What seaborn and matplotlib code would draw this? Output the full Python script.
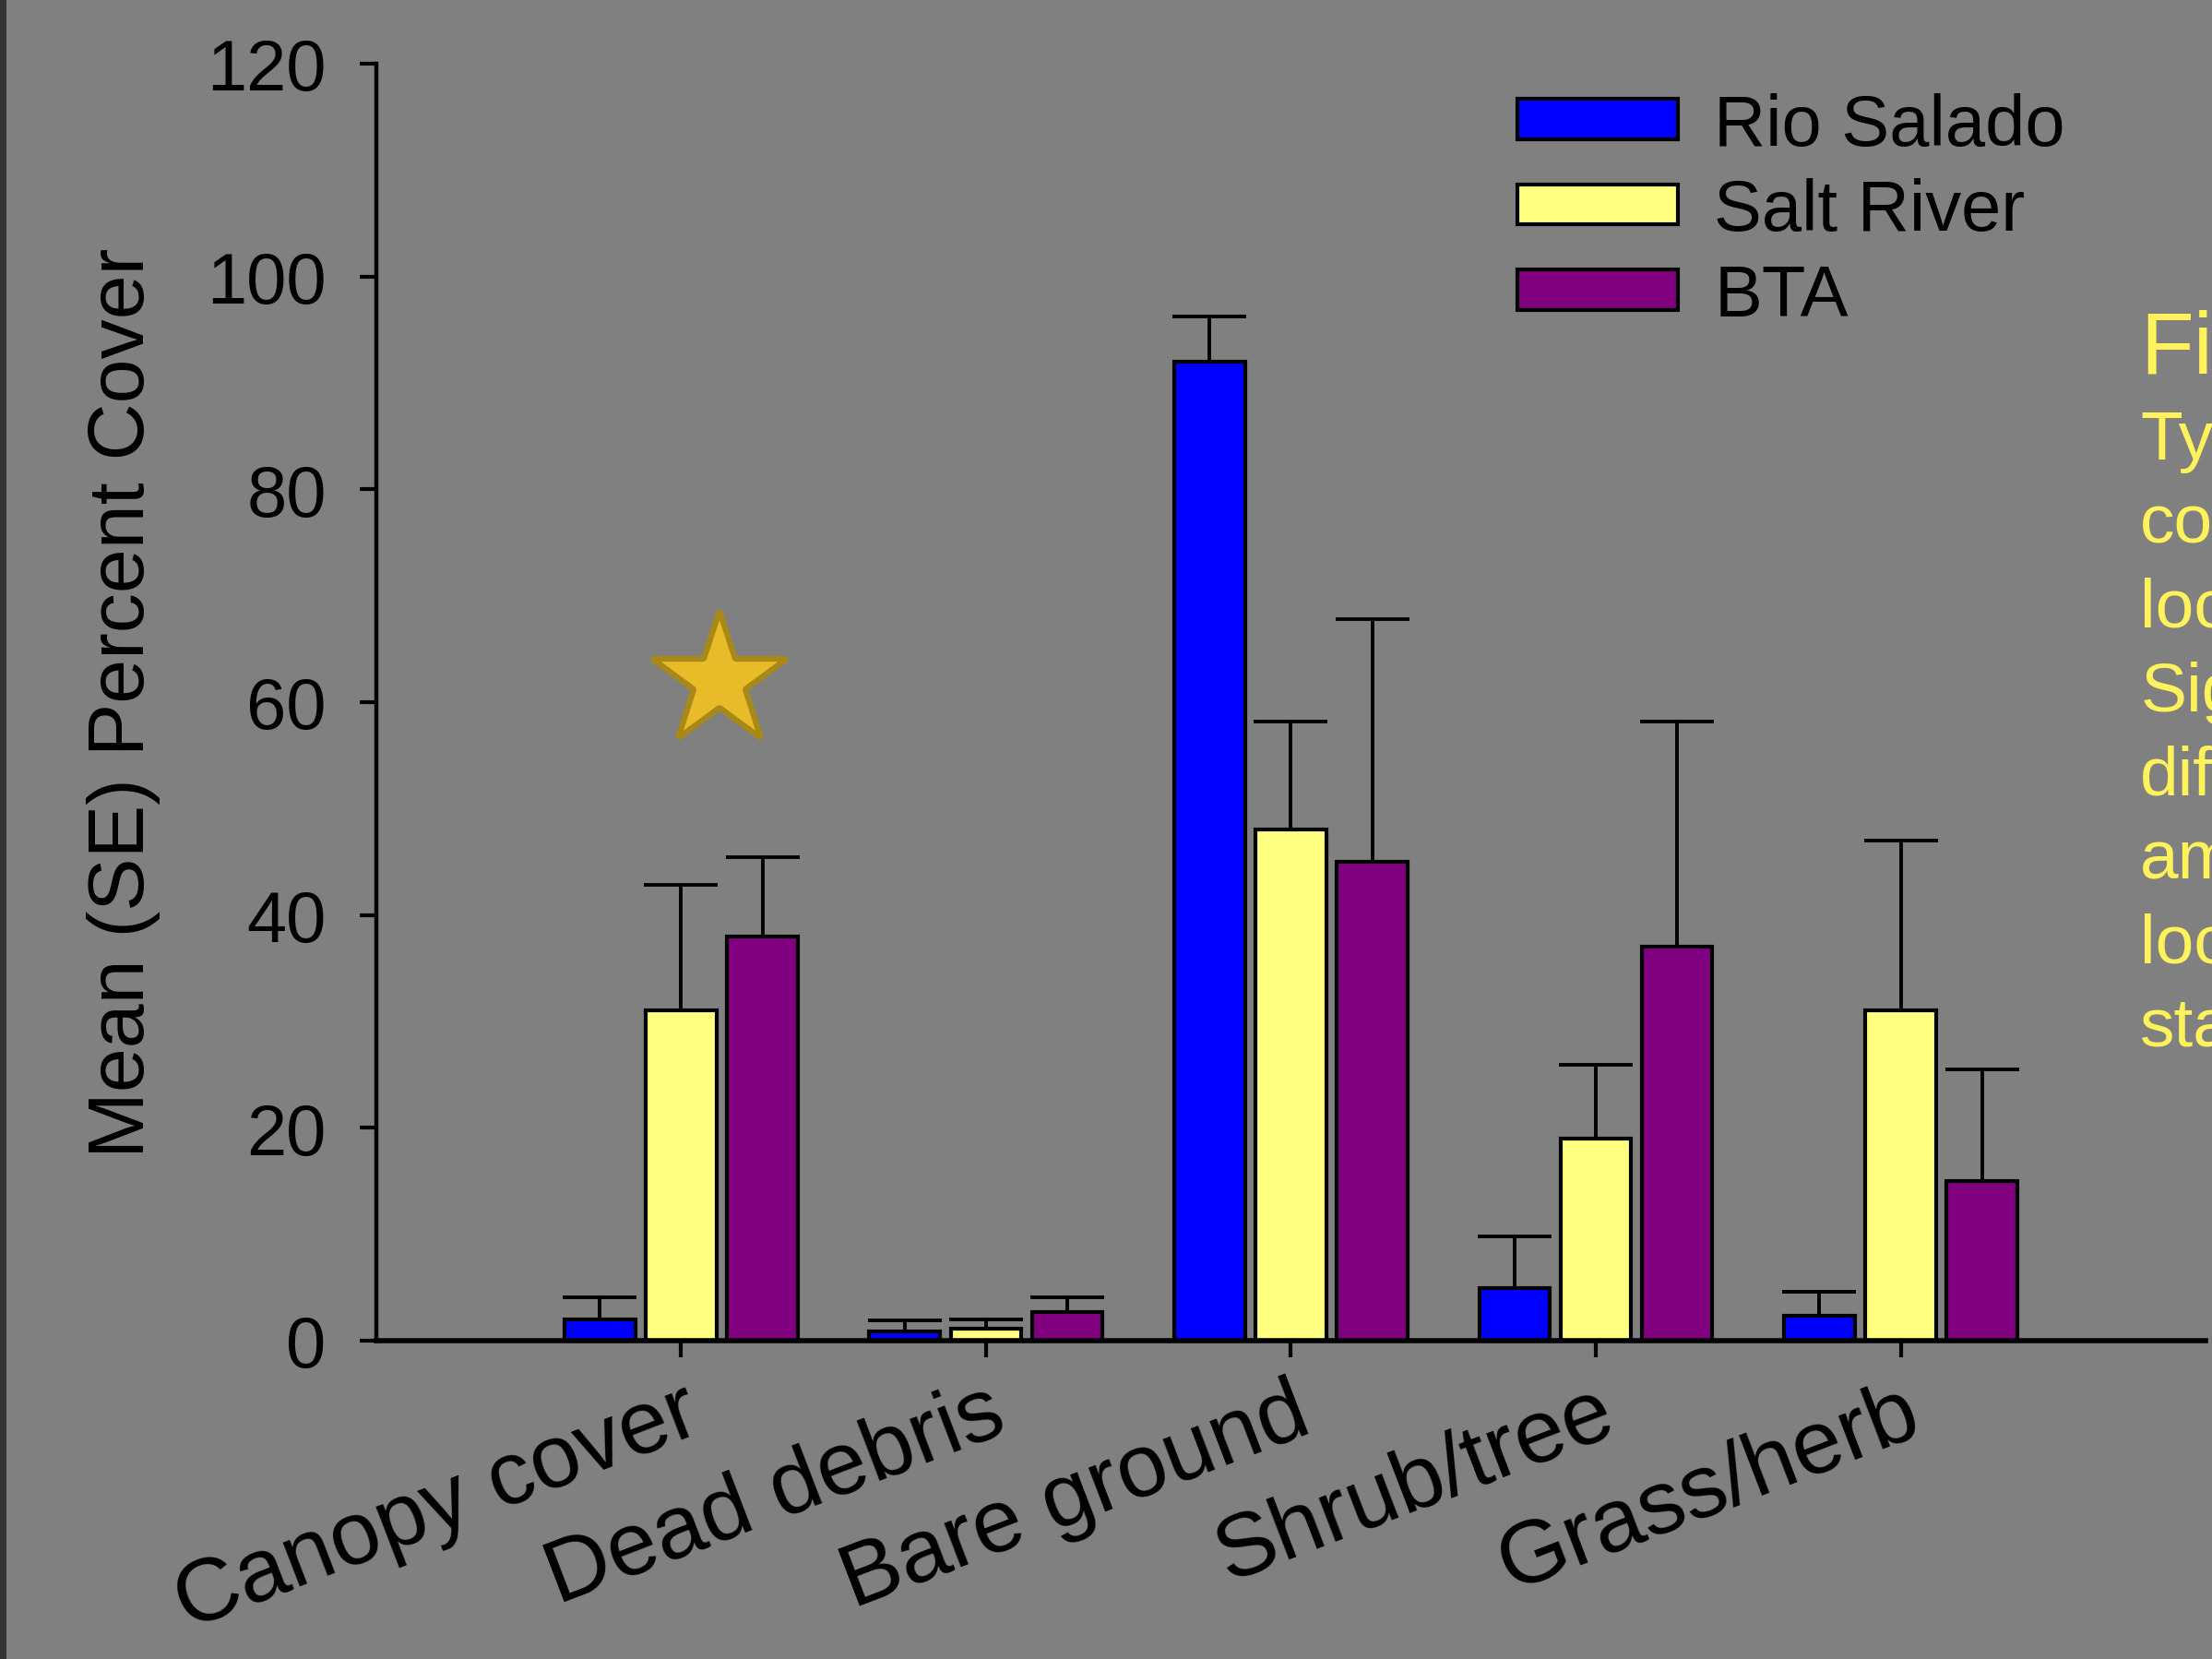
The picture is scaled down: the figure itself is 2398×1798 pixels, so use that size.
import matplotlib
matplotlib.use("Agg")
import matplotlib.pyplot as plt
from matplotlib.patches import Patch, Rectangle
import seaborn as sns
import pandas as pd

# values (mean and upward SE)
categories = ["Canopy cover", "Dead debris", "Bare ground", "Shrub/tree", "Grass/herb"]
sites = ["Rio Salado", "Salt River", "BTA"]
rio_mean = [2.0, 0.9, 92.0, 4.9, 2.3]
rio_se = [2.1, 1.0, 4.2, 4.9, 2.3]
salt_mean = [31.0, 1.1, 48.0, 19.0, 31.0]
salt_se = [11.8, 0.9, 10.2, 6.9, 16.0]
bta_mean = [38.0, 2.7, 45.0, 37.0, 15.0]
bta_se = [7.4, 1.4, 22.8, 21.2, 10.5]
colors = ["#0000FF", "#FFFF80", "#800080"]
yticks = [0, 20, 40, 60, 80, 100, 120]
star_x, star_y = 0.125, 62
note_title = "Fi"
note_lines = ["Ty", "co", "loc", "Sig", "dif", "am", "loc", "sta"]

BG = "#808080"
sns.set_style("ticks")
plt.rcParams["font.family"] = ["Liberation Sans", "DejaVu Sans"]
plt.rcParams["text.color"] = "black"

rows = []
for site, means in zip(sites, [rio_mean, salt_mean, bta_mean]):
    for cat, m in zip(categories, means):
        rows.append({"cover": cat, "site": site, "mean": m})
df = pd.DataFrame(rows)

fig = plt.figure(figsize=(23.98, 17.99), dpi=100, facecolor=BG)
ax = fig.add_axes([0.1701, 0.1918, 0.827, 0.7693])
ax.set_facecolor(BG)

sns.barplot(data=df, x="cover", y="mean", hue="site", order=categories,
            hue_order=sites, palette=colors, errorbar=None, width=0.8, gap=0.13,
            edgecolor="black", linewidth=3, saturation=1, legend=False, ax=ax)

# upward-only error bars on each bar
for cont, se in zip(ax.containers, [rio_se, salt_se, bta_se]):
    xs, ys, es = [], [], []
    for p in cont:
        xc = p.get_x() + p.get_width() / 2
        xs.append(xc)
        ys.append(p.get_height())
        es.append(se[int(round(xc))])
    ax.errorbar(xs, ys, yerr=[[0] * len(es), es], fmt="none", ecolor="black",
                elinewidth=2.8, capsize=29, capthick=2.8, zorder=3)

ax.plot([star_x], [star_y], marker="*", markersize=110, color="#E8BC28",
        markeredgecolor="#A88918", markeredgewidth=4.5, linestyle="none", zorder=4)

ax.set_xlim(-1, 5)
ax.set_ylim(0, 120)
ax.set_yticks(yticks)
ax.set_xlabel("")
ax.set_ylabel("Mean (SE) Percent Cover", fontsize=62, color="black")
ax.yaxis.set_label_coords(-0.118, 0.5)

sns.despine(ax=ax)
ax.spines["left"].set_linewidth(3.2)
ax.spines["bottom"].set_linewidth(4)
ax.spines["left"].set_color("black")
ax.spines["bottom"].set_color("black")
ax.tick_params(axis="y", direction="out", length=13, width=3, pad=26,
               labelsize=56, colors="black")
ax.tick_params(axis="x", direction="out", length=13, width=3, pad=10,
               labelsize=70, colors="black")
for lab in ax.get_xticklabels():
    lab.set_rotation(21)
    lab.set_ha("right")
    lab.set_va("top")
    lab.set_rotation_mode("anchor")

handles = [Patch(facecolor=c, edgecolor="black", linewidth=3) for c in colors]
leg = ax.legend(handles, sites, loc="upper left", bbox_to_anchor=(0.686, 0.944),
                bbox_transform=fig.transFigure, frameon=False, fontsize=56,
                handlelength=2.24, handleheight=0.48, handletextpad=0.5,
                labelspacing=0.25, borderpad=0, borderaxespad=0)
for t in leg.get_texts():
    t.set_color("black")

# clipped caption on the right edge
fig.text(0.9675, 0.789, note_title, fontsize=68, color="#FFF25A", va="center", ha="left")
for i, line in enumerate(note_lines):
    fig.text(0.9675, 0.734 - i * 0.0505, line, fontsize=54, color="#FFF25A",
             va="center", ha="left")

# dark strip at left edge
fig.patches.append(Rectangle((0, 0), 0.003, 1, transform=fig.transFigure,
                             facecolor="#333333", edgecolor="none"))

fig.savefig("out.png", dpi=100, facecolor=BG)
